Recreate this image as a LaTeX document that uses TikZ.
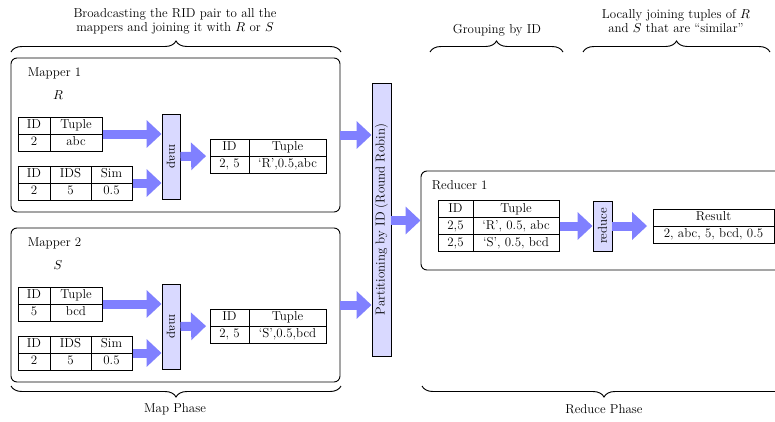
\documentclass[tikz,border=0pt]{standalone}
\usepackage{graphicx}
\usetikzlibrary{matrix, arrows.meta, decorations.pathreplacing, positioning}

\colorlet{arrowblue}{blue!50}
\colorlet{barblue}{blue!15}

\begin{document}
\fontsize{11pt}{12pt}\selectfont
\begin{tikzpicture}[x=0.85pt, y=-0.85pt, line width=0.8pt,
    fat/.style={line width=7.65pt, draw=arrowblue, -{Triangle[width=22.95pt, length=12.75pt]}},
    bar/.style={draw, fill=barblue, inner sep=0pt},
    box/.style={draw, rounded corners=5.1pt, inner sep=0pt},
    tab/.style={matrix of nodes, inner sep=0pt, column sep=-0.8pt, row sep=-0.8pt,
        nodes={draw, minimum height=14.45pt, inner sep=1pt, text height=7.5pt, text depth=2.3pt, anchor=center}},
    brace/.style={decorate, decoration={brace, amplitude=9.35pt}}]

\useasboundingbox (0,0) rectangle (775,421);
\clip (0,0) rectangle (775,421);

% mapper 1
\node[box, minimum width=279.65pt, minimum height=130.9pt] (mapperA) at (175.5,135) {};
\node[anchor=west] (mapperAname) at (23,73) {Mapper 1};
\node (relR) at (58,95) {$R$};
\matrix (inA) [tab, column 1/.style={nodes={minimum width=27.2pt}},
    column 2/.style={nodes={minimum width=44.2pt}}] at (60,134)
    {ID & Tuple \\ 2 & abc \\};
\matrix (simA) [tab, column 1/.style={nodes={minimum width=27.2pt}},
    column 2/.style={nodes={minimum width=34.85pt}},
    column 3/.style={nodes={minimum width=34.85pt}}] at (75,183)
    {ID & IDS & Sim \\ 2 & 5 & 0.5 \\};
\node[bar, minimum width=15.3pt, minimum height=72.25pt] (mapA) at (171,156.5) {\rotatebox{-90}{map}};
\matrix (outA) [tab, column 1/.style={nodes={minimum width=33.15pt}},
    column 2/.style={nodes={minimum width=65.45pt}}] at (268,156)
    {ID & Tuple \\ 2, 5 & `R',0.5,abc \\};

% mapper 2
\node[box, minimum width=279.65pt, minimum height=130.9pt] (mapperB) at (175.5,305) {};
\node[anchor=west] (mapperBname) at (23,243) {Mapper 2};
\node (relS) at (58,265) {$S$};
\matrix (inB) [tab, column 1/.style={nodes={minimum width=27.2pt}},
    column 2/.style={nodes={minimum width=44.2pt}}] at (60,304)
    {ID & Tuple \\ 5 & bcd \\};
\matrix (simB) [tab, column 1/.style={nodes={minimum width=27.2pt}},
    column 2/.style={nodes={minimum width=34.85pt}},
    column 3/.style={nodes={minimum width=34.85pt}}] at (75,353)
    {ID & IDS & Sim \\ 2 & 5 & 0.5 \\};
\node[bar, minimum width=15.3pt, minimum height=72.25pt] (mapB) at (171,326.5) {\rotatebox{-90}{map}};
\matrix (outB) [tab, column 1/.style={nodes={minimum width=33.15pt}},
    column 2/.style={nodes={minimum width=65.45pt}}] at (268,326)
    {ID & Tuple \\ 2, 5 & `S',0.5,bcd \\};

% shuffle
\node[bar, minimum width=16.15pt, minimum height=232.05pt] (part) at (381.5,219.5)
    {\rotatebox{90}{Partitioning by ID (Round Robin)}};

% reducer
\node[box, minimum width=313.65pt, minimum height=84.15pt] (reducer) at (605.5,220.5) {};
\node[anchor=west] (reducername) at (427,185) {Reducer 1};
\matrix (grp) [tab, column 1/.style={nodes={minimum width=29.75pt}},
    column 2/.style={nodes={minimum width=73.1pt}}] at (498.5,226)
    {ID & Tuple \\ 2,5 & `R', 0.5, abc \\ 2,5 & `S', 0.5, bcd \\};
\node[bar, minimum width=16.15pt, minimum height=42.5pt] (red) at (602.5,226) {\rotatebox{90}{reduce}};
\matrix (res) [tab, column 1/.style={nodes={minimum width=102.85pt}}] at (713.5,226)
    {Result \\ 2, abc, 5, bcd, 0.5 \\};

\path
(inA.east) edge[fat] (inA.east -| mapA.west)
(simA.east) edge[fat] (simA.east -| mapA.west)
(mapA.east) edge[fat, shorten >=2.55pt] (outA.west)
(inB.east) edge[fat] (inB.east -| mapB.west)
(simB.east) edge[fat] (simB.east -| mapB.west)
(mapB.east) edge[fat, shorten >=2.55pt] (outB.west)
(mapperA.east) edge[fat] (mapperA.east -| part.west)
(mapperB.east) edge[fat] (mapperB.east -| part.west)
(part.east |- reducer.west) edge[fat] (reducer.west)
(grp.east) edge[fat] (red.west)
(red.east) edge[fat, shorten >=4.25pt] (res.west)
;

% braces
\draw[brace] (11,52) -- (341,52);
\draw[brace] (430,52) -- (563,52);
\draw[brace] (583,52) -- (770,52);
\draw[brace] (341,386) -- (11,386);
\draw[brace] (786,386) -- (422,386);

\node[align=center] (bcast) at (175,21) {Broadcasting the RID pair to all the\\ mappers and joining it with $R$ or $S$};
\node (grouping) at (497,30) {Grouping by ID};
\node[align=center] (localjoin) at (676,21) {Locally joining tuples of $R$\\ and $S$ that are ``similar''};
\node (mapphase) at (175,409) {Map Phase};
\node (reducephase) at (604,409) {Reduce Phase};
\end{tikzpicture}
\end{document}
